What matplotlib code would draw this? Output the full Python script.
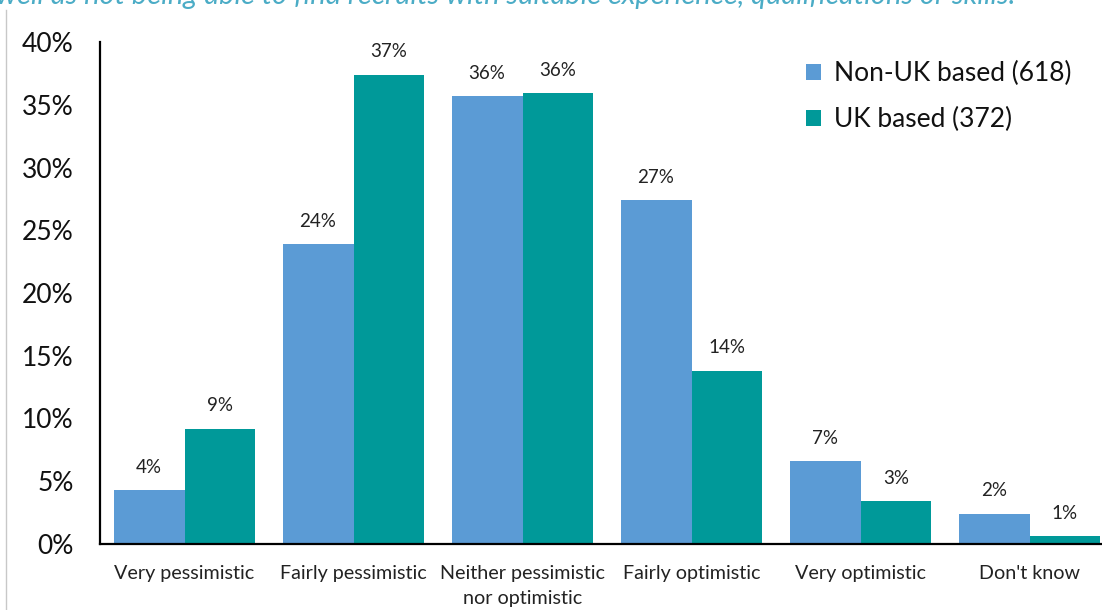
import matplotlib.pyplot as plt
import numpy as np
from matplotlib.lines import Line2D

plt.rcParams['font.family'] = ['Lato', 'DejaVu Sans']

categories = ['Very pessimistic', 'Fairly pessimistic', 'Neither pessimistic\nnor optimistic',
              'Fairly optimistic', 'Very optimistic', "Don't know"]
non_uk = [4.3, 23.9, 35.7, 27.4, 6.6, 2.4]
uk = [9.2, 37.4, 35.9, 13.8, 3.4, 0.6]
series_names = ['Non-UK based (618)', 'UK based (372)']
y_ticks = [0, 5, 10, 15, 20, 25, 30, 35, 40]
caption = 'well as not being able to find recruits with suitable experience, qualifications or skills.'

blue = '#5B9BD5'
teal = '#009999'

fig = plt.figure(figsize=(11.02, 6.10), dpi=100, facecolor='white')
# plot area runs past the right edge of the figure
ax = fig.add_axes([100 / 1102, 66 / 610, 1014 / 1102, 502 / 610])

x = np.arange(len(categories))
w = 0.42
b1 = ax.bar(x - w / 2, non_uk, w, color=blue, label=series_names[0])
b2 = ax.bar(x + w / 2, uk, w, color=teal, label=series_names[1])

for bars in (b1, b2):
    for rect in bars:
        v = rect.get_height()
        ax.annotate('{:.0f}%'.format(v), (rect.get_x() + rect.get_width() / 2, v),
                    xytext=(0, 16.5), textcoords='offset points',
                    ha='center', va='center', fontsize=13.5, color='#222222')

ax.set_xlim(-0.5, len(categories) - 0.5)
ax.set_ylim(0, 40)
ax.set_yticks(y_ticks)
ax.set_yticklabels(['{}%'.format(t) for t in y_ticks], fontsize=19, color='#111111')
ax.set_xticks(x)
ax.set_xticklabels(categories, fontsize=14.2, color='#222222', linespacing=1.55)
ax.tick_params(axis='y', length=0, pad=19)
ax.tick_params(axis='x', length=0, pad=15)

for s in ['top', 'right']:
    ax.spines[s].set_visible(False)
for s in ['left', 'bottom']:
    ax.spines[s].set_color('black')
    ax.spines[s].set_linewidth(1.6)

leg = ax.legend(loc='upper left', bbox_to_anchor=(806 / 1102, 1 - 61 / 610),
                bbox_transform=fig.transFigure, frameon=False, fontsize=19,
                handlelength=0.55, handleheight=0.55, handletextpad=0.5,
                labelspacing=0.8, borderaxespad=0, borderpad=0)
for t in leg.get_texts():
    t.set_color('#111111')

fig.text(-0.004, 1 - 4 / 610, caption, fontsize=21, style='italic',
         color='#4BACC6', ha='left', va='baseline')
fig.add_artist(Line2D([6 / 1102, 6 / 1102], [0, 1 - 10 / 610],
                      transform=fig.transFigure, color='#C8C8C8', linewidth=1))

fig.savefig('out.png', dpi=100)
